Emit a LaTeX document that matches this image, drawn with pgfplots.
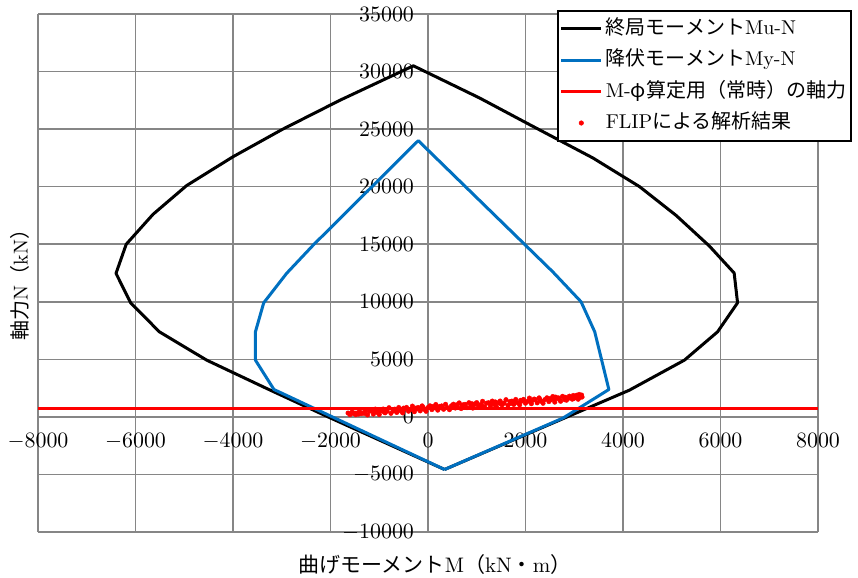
\documentclass[border=0pt]{standalone}
\usepackage{fontspec}
\usepackage{pgfplots}
\pgfplotsset{compat=1.18}
\newfontfamily\jp{Noto Sans CJK JP}
\definecolor{gridgray}{RGB}{134,134,134}
\definecolor{ublue}{RGB}{0,112,192}
\pgfplotsset{
  lineleg/.style={legend image code/.code={\draw[##1] (0pt,0pt) -- (20pt,0pt);}},
  dotleg/.style={legend image code/.code={\draw[mark repeat=2,mark phase=2,##1] plot coordinates {(0pt,0pt)(10pt,0pt)(20pt,0pt)};}},
}
\begin{document}
\begin{tikzpicture}
\begin{axis}[
  scale only axis, width=390pt, height=259pt,
  xmin=-8000, xmax=8000, ymin=-10000, ymax=35000,
  axis lines=middle,
  axis line style={draw=gridgray, line width=0.75pt, -},
  xtick={-8000,-6000,...,8000},
  ytick={-10000,-5000,...,35000},
  grid=major,
  major grid style={draw=gridgray, line width=0.75pt},
  major tick length=0pt,
  hide obscured x ticks=false, hide obscured y ticks=false,
  scaled ticks=false,
  xticklabel style={font=\fontsize{10.5}{12}\selectfont, yshift=-4.5pt},
  yticklabel style={font=\fontsize{10.5}{12}\selectfont, xshift=-3.5pt},
  /pgf/number format/1000 sep={},
  xlabel={{\jp 曲げモーメント}M{\jp （}kN{\jp ・}m{\jp ）}},
  ylabel={{\jp 軸力}N{\jp （}kN{\jp ）}},
  xlabel style={at={(rel axis cs:0.509,-0.0637)}, anchor=center, font=\fontsize{10.5}{12}\selectfont},
  ylabel style={at={(rel axis cs:-0.0231,0.4865)}, anchor=center, rotate=90, font=\fontsize{10}{12}\selectfont},
  legend style={at={(1.0436,1.0077)}, anchor=north east, draw=black, line width=1pt, fill=white,
    font=\fontsize{10}{12}\selectfont, row sep=2.25pt, inner xsep=1pt, inner ysep=2pt,
    nodes={text height=8pt, text depth=2.5pt, inner sep=1.5pt}},
  legend cell align=left,
]
\coordinate (bl) at (rel axis cs:-0.04872,-0.08687);
\coordinate (tr) at (rel axis cs:1.05128,1.02703);

\addplot[black, line width=1.5pt, line join=round, lineleg] coordinates {
(340,-4570) (-2050,0) (-3300,2450) (-4540,4930) (-5510,7390) (-6100,9910)
(-6400,12470) (-6190,15000) (-5640,17600) (-4950,20100) (-4000,22600)
(-3000,24950) (-1810,27500) (-300,30500) (1060,27700) (2080,25400)
(3380,22500) (4340,20000) (5090,17500) (5770,14850) (6280,12500)
(6350,9910) (5940,7390) (5260,4930) (4130,2320) (340,-4570)
};
\addlegendentry{{\jp 終局モーメント}Mu-N}

\addplot[ublue, line width=1.5pt, line join=round, lineleg] coordinates {
(340,-4570) (-3160,2380) (-3540,4930) (-3540,7390) (-3370,9910)
(-2900,12470) (-2360,14900) (-200,24000) (2560,12600) (3140,10000)
(3420,7390) (3710,2380) (2770,-100) (340,-4570)
};
\addlegendentry{{\jp 降伏モーメント}My-N}

\addplot[red, line width=1.5pt, lineleg] coordinates {
(-8000,740) (8000,740)
};
\addlegendentry{M-{\jp φ算定用（常時）の軸力}}

\addplot[only marks, mark=*, mark size=1.15pt, red, mark options={draw=red, fill=red, line width=0.2pt}, dotleg] coordinates {
(-1640,334) (-1600,196) (-1560,418) (-1520,279) (-1480,196) (-1440,362)
(-1400,444) (-1360,286) (-1320,367) (-1280,519) (-1240,170) (-1200,492)
(-1160,534) (-1120,245) (-1080,677) (-1040,388) (-1000,210) (-960,532)
(-920,683) (-880,355) (-840,506) (-800,798) (-760,310) (-720,631)
(-680,673) (-640,384) (-600,816) (-560,528) (-520,349) (-480,671)
(-440,822) (-400,494) (-360,646) (-320,937) (-280,449) (-240,770)
(-200,812) (-160,524) (-120,955) (-80,667) (-40,488) (0,810)
(40,962) (80,633) (120,785) (160,1076) (200,588) (240,910)
(280,951) (320,663) (360,1094) (400,806) (440,628) (480,949)
(520,1101) (560,772) (600,924) (640,1216) (680,727) (720,1049)
(760,1090) (800,802) (840,1234) (880,945) (920,767) (960,1088)
(1000,1240) (1040,912) (1080,1063) (1120,1355) (1160,866) (1200,1188)
(1240,1230) (1280,941) (1320,1373) (1360,1084) (1400,906) (1440,1228)
(1480,1379) (1520,1051) (1560,1202) (1600,1494) (1640,1006) (1680,1327)
(1720,1369) (1760,1080) (1800,1512) (1840,1224) (1880,1045) (1920,1367)
(1960,1518) (2000,1190) (2040,1342) (2080,1633) (2120,1145) (2160,1466)
(2200,1508) (2240,1220) (2280,1651) (2320,1363) (2360,1184) (2400,1506)
(2440,1658) (2480,1329) (2520,1481) (2560,1772) (2600,1284) (2640,1606)
(2680,1647) (2720,1359) (2760,1790) (2800,1502) (2840,1449) (2880,1615)
(2920,1697) (2960,1538) (3000,1620) (3040,1772) (3080,1533) (3120,1700)
(3160,1726) (2980,1860) (3050,1880) (3100,1950) (3150,1900) (2900,1800)
(-1100,420) (-700,520) (-300,640) (100,900) (500,1000) (900,1150)
(1300,1250) (1700,1180) (2100,1400) (2500,1580) (2700,1500) (-500,760)
(-1420,250) (-1020,460) (-620,600) (-220,700) (180,860) (580,1040)
(980,1160) (1380,1300) (1780,1300) (2180,1550) (2580,1620) (2820,1700)
(-1300,300) (-900,430) (-100,820) (300,780) (700,980) (1100,1020)
(1500,1120) (1900,1440) (2300,1480) (2620,1720) (3020,1700) (-1500,330)
};
\addlegendentry{FLIP{\jp による解析結果}}
\end{axis}
\pgfresetboundingbox
\path[use as bounding box] (bl) rectangle (tr);
\end{tikzpicture}
\end{document}
